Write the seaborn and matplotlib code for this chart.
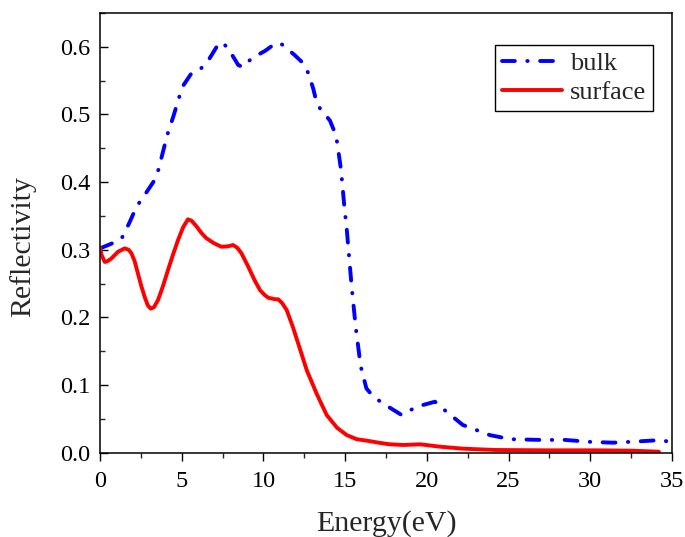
import matplotlib
matplotlib.use("Agg")
import matplotlib.pyplot as plt
from matplotlib.ticker import MultipleLocator
import seaborn as sns
import pandas as pd

# Reflectivity spectra (energy in eV)
bulk_energy = [0, 0.7, 1.33, 1.8, 2.24, 2.65, 3.26, 3.57, 4.12, 4.5, 4.85, 5.1, 5.6, 6.18,
               6.63, 7.14, 7.5, 7.96, 8.46, 8.75, 9.28, 10.1, 10.67, 10.95, 11.2, 11.9,
               12.38, 12.75, 13.05, 13.2, 13.46, 14.07, 14.34, 14.5, 14.75, 14.95, 15.1,
               15.4, 15.65, 15.95, 16.3, 16.73, 17.3, 18.46, 19.38, 20.5, 21.2, 22.2,
               23.86, 25.1, 27.1, 28.4, 30.0, 31.4, 32.4, 33.86, 34.5, 35.0]
bulk_refl = [0.302, 0.309, 0.317, 0.340, 0.364, 0.378, 0.400, 0.418, 0.470, 0.498, 0.526,
             0.543, 0.561, 0.568, 0.580, 0.600, 0.607, 0.593, 0.573, 0.570, 0.583, 0.594,
             0.604, 0.606, 0.6025, 0.588, 0.577, 0.561, 0.538, 0.523, 0.509, 0.491, 0.475,
             0.460, 0.418, 0.364, 0.330, 0.245, 0.185, 0.128, 0.095, 0.083, 0.073, 0.0557,
             0.068, 0.0754, 0.0606, 0.041, 0.026, 0.020, 0.0188, 0.019, 0.016, 0.0148,
             0.016, 0.018, 0.018, 0.0148]

surf_energy = [0, 0.1, 0.29, 0.45, 0.69, 1.1, 1.51, 1.75, 1.92, 2.12, 2.32, 2.52, 2.73,
               2.92, 3.10, 3.3, 3.55, 3.85, 4.16, 4.47, 4.77, 5.08, 5.38, 5.6, 5.89, 6.2,
               6.51, 6.95, 7.42, 7.8, 8.14, 8.4, 8.65, 9.05, 9.46, 9.8, 10.08, 10.3, 10.69,
               10.91, 11.15, 11.42, 11.8, 12.2, 12.65, 13.26, 13.87, 14.5, 15.1, 15.7,
               16.4, 17.0, 17.7, 18.56, 19.6, 20.8, 22.2, 24.2, 27.3, 30.3, 32.5, 34.2]
surf_refl = [0.303, 0.292, 0.282, 0.283, 0.287, 0.297, 0.302, 0.300, 0.295, 0.283, 0.265,
             0.247, 0.2305, 0.218, 0.213, 0.215, 0.2257, 0.246, 0.270, 0.293, 0.314, 0.333,
             0.345, 0.343, 0.335, 0.325, 0.317, 0.310, 0.3045, 0.305, 0.307, 0.303, 0.295,
             0.276, 0.255, 0.240, 0.233, 0.229, 0.227, 0.2267, 0.221, 0.211, 0.186, 0.156,
             0.122, 0.087, 0.0557, 0.037, 0.026, 0.020, 0.0175, 0.015, 0.0125, 0.0114,
             0.0124, 0.0089, 0.006, 0.004, 0.0035, 0.0035, 0.003, 0.0015]

series_names = ["bulk", "surface"]
x_ticks = [0, 5, 10, 15, 20, 25, 30, 35]
y_ticks = [0.0, 0.1, 0.2, 0.3, 0.4, 0.5, 0.6]

df = pd.concat([
    pd.DataFrame({"Energy": bulk_energy, "R": bulk_refl, "kind": series_names[0]}),
    pd.DataFrame({"Energy": surf_energy, "R": surf_refl, "kind": series_names[1]}),
], ignore_index=True)

sns.set_style("ticks")
plt.rcParams["font.family"] = ["Liberation Serif", "DejaVu Serif"]

fig = plt.figure(figsize=(6.85, 5.37), dpi=100)
ax = fig.add_axes([100 / 685, (537 - 452.7) / 537, 572 / 685, 439.7 / 537])

sns.lineplot(data=df, x="Energy", y="R", hue="kind", style="kind",
             palette={"bulk": "#0000ff", "surface": "#ff0000"},
             dashes={"bulk": (3.3, 3.2, 0.1, 3.2), "surface": ""},
             linewidth=2.8, sort=False, estimator=None, ax=ax, legend=True)

for line in ax.get_lines():
    line.set_dash_capstyle("round")
    line.set_solid_capstyle("round")
    line.set_solid_joinstyle("round")
    line.set_dash_joinstyle("round")

ax.set_xlim(0, 35)
ax.set_ylim(0, 0.65)
ax.set_xticks(x_ticks)
ax.set_xticklabels([str(v) for v in x_ticks])
ax.set_yticks(y_ticks)
ax.set_yticklabels([f"{v:.1f}" for v in y_ticks])
ax.xaxis.set_minor_locator(MultipleLocator(2.5))
ax.yaxis.set_minor_locator(MultipleLocator(0.05))

ax.tick_params(axis="x", which="major", direction="out", length=6, width=1, pad=7,
               labelsize=17.5, colors="black")
ax.tick_params(axis="x", which="minor", direction="out", length=3.5, width=1)
ax.tick_params(axis="y", which="major", direction="in", length=6, width=1, pad=7,
               labelsize=17.5, colors="black")
ax.tick_params(axis="y", which="minor", direction="in", length=3.5, width=1)
ax.tick_params(top=False, right=False, which="both")

for s in ax.spines.values():
    s.set_visible(True)
    s.set_linewidth(1.1)
    s.set_color("black")

ax.set_xlabel("Energy(eV)", fontsize=21.5, labelpad=13)
ax.set_ylabel("Reflectivity", fontsize=21.5)
ax.yaxis.set_label_coords(-0.111, 0.468)

handles, labels = ax.get_legend_handles_labels()
leg = ax.legend(handles, labels, loc="upper right", bbox_to_anchor=(0.967, 0.927),
                borderaxespad=0, fontsize=19, frameon=True, fancybox=False,
                edgecolor="black", framealpha=1, handlelength=2.3, handletextpad=0.3,
                labelspacing=0.2, borderpad=0.25)
leg.get_frame().set_linewidth(1.0)

fig.savefig("out.png", dpi=100)
